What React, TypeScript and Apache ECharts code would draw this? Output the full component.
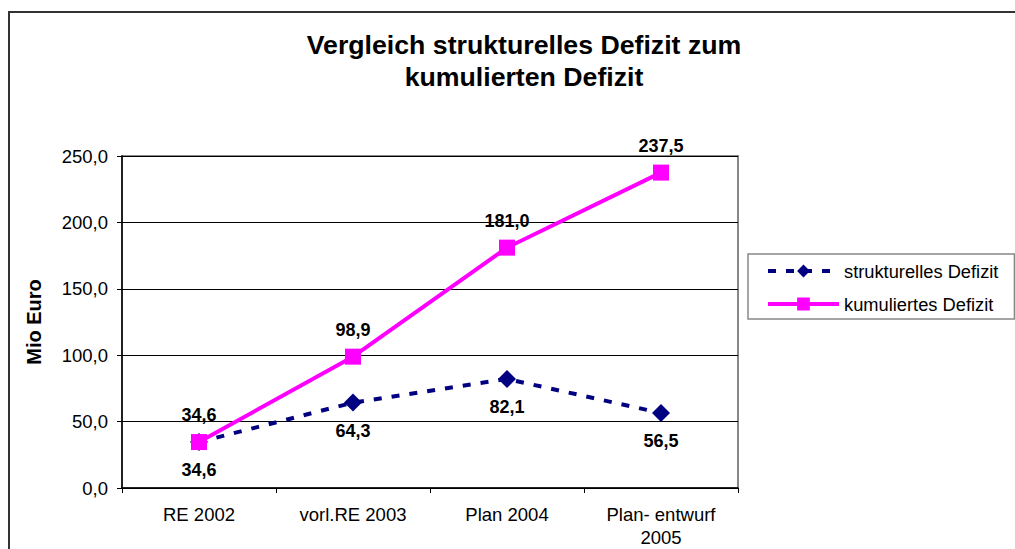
import React, { useEffect, useRef } from "react";
import * as echarts from "echarts";

const categories = ["RE 2002", "vorl.RE 2003", "Plan 2004", "Plan- entwurf\n2005"];
const strukturelles = [34.6, 64.3, 82.1, 56.5];
const kumuliert = [34.6, 98.9, 181.0, 237.5];
const seriesNames = ["strukturelles Defizit", "kumuliertes Defizit"];
const titleText = "Vergleich strukturelles Defizit zum\nkumulierten Defizit";
const yAxisName = "Mio Euro";

const FONT = "'Liberation Sans', Arial, sans-serif";
const fmt = (v: number) => v.toFixed(1).replace(".", ",");

export default function App() {
  const ref = useRef<HTMLDivElement>(null);
  useEffect(() => {
    if (!ref.current) return;
    const chart = echarts.init(ref.current, undefined, { renderer: "svg" });
    chart.setOption({
      animation: false,
      backgroundColor: "#fff",
      textStyle: { fontFamily: FONT },
      title: {
        text: titleText,
        left: 519,
        top: 24,
        textAlign: "center",
        textStyle: { fontFamily: FONT, fontSize: 26.7, fontWeight: "bold", lineHeight: 32, color: "#000" },
      },
      graphic: [
        {
          type: "rect",
          shape: { x: 9, y: 12, width: 1030, height: 560 },
          style: { fill: "none", stroke: "#333", lineWidth: 2 },
          silent: true,
        },
      ],
      legend: {
        left: 748,
        top: 254,
        orient: "vertical",
        borderColor: "#888",
        borderWidth: 1.5,
        padding: [8, 16, 6, 18],
        itemWidth: 71,
        itemHeight: 16,
        itemGap: 15,
        lineStyle: { width: 4 },
        textStyle: { fontFamily: FONT, fontSize: 18.3, color: "#000" },
        data: seriesNames,
      },
      grid: {
        left: 122,
        top: 156,
        right: 277,
        bottom: 61,
        show: true,
        borderColor: "#888",
        borderWidth: 2,
        backgroundColor: "#fff",
      },
      xAxis: {
        type: "category",
        data: categories,
        boundaryGap: true,
        axisLine: { lineStyle: { color: "#000", width: 1.5 } },
        axisTick: { show: true, length: 5, interval: 0, lineStyle: { color: "#000" } },
        axisLabel: { fontFamily: FONT, fontSize: 18.5, color: "#000", margin: 15, interval: 0, lineHeight: 23 },
      },
      yAxis: {
        type: "value",
        min: 0,
        max: 250,
        interval: 50,
        name: yAxisName,
        nameLocation: "middle",
        nameGap: 78,
        nameTextStyle: { fontFamily: FONT, fontSize: 20, fontWeight: "bold", color: "#000" },
        axisLine: { show: true, lineStyle: { color: "#000", width: 1.5 } },
        axisTick: { show: true, length: 5, lineStyle: { color: "#000" } },
        axisLabel: { fontFamily: FONT, fontSize: 18.5, color: "#000", margin: 14, formatter: (v: number) => fmt(v) },
        splitLine: { show: true, lineStyle: { color: "#000", width: 1 } },
      },
      series: [
        {
          name: seriesNames[0],
          type: "line",
          data: strukturelles,
          color: "#000080",
          symbol: "diamond",
          symbolSize: 18,
          lineStyle: { color: "#000080", width: 4, type: [8, 10] },
          itemStyle: { color: "#000080" },
          label: {
            show: true,
            position: "bottom",
            distance: 10,
            formatter: (p: any) => fmt(p.value),
            fontFamily: FONT,
            fontSize: 18,
            fontWeight: "bold",
            color: "#000",
          },
          z: 3,
        },
        {
          name: seriesNames[1],
          type: "line",
          data: kumuliert,
          color: "#FF00FF",
          symbol: "rect",
          symbolSize: 16,
          lineStyle: { color: "#FF00FF", width: 4 },
          itemStyle: { color: "#FF00FF" },
          label: {
            show: true,
            position: "top",
            distance: 10,
            formatter: (p: any) => fmt(p.value),
            fontFamily: FONT,
            fontSize: 18,
            fontWeight: "bold",
            color: "#000",
          },
          z: 4,
        },
      ],
    });
    return () => chart.dispose();
  }, []);
  return (
    <div
      ref={ref}
      style={{ position: "fixed", left: 0, top: 0, width: 1015, height: 549, background: "#fff" }}
    />
  );
}
